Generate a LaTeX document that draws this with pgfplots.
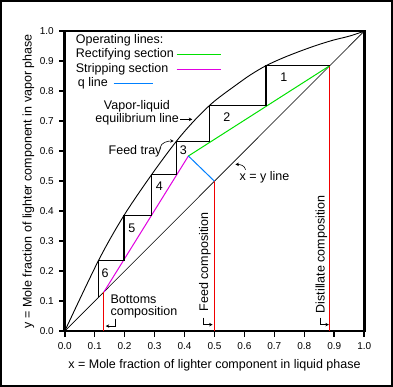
\documentclass[border=0pt]{standalone}
\usepackage{fontspec}
\setmainfont{Liberation Sans}
\usepackage{pgfplots}
\pgfplotsset{compat=1.18}
\usetikzlibrary{arrows.meta}
\definecolor{rectc}{RGB}{0,225,0}
\definecolor{stripc}{RGB}{225,0,225}
\definecolor{qc}{RGB}{0,128,255}
\definecolor{compc}{RGB}{240,0,0}
\begin{document}
\fontsize{12.5}{14}\selectfont
\begin{tikzpicture}[>={Stealth[length=3.5pt,width=3.5pt]}]
\useasboundingbox (0,0) rectangle (393pt,387pt);
\fill[white] (0,0) rectangle (393pt,387pt);
\draw[line width=2pt] (1pt,1pt) rectangle (392pt,386pt);
\begin{axis}[
  at={(64.7pt,55.8pt)}, anchor=south west,
  scale only axis, width=299.5pt, height=300pt,
  xmin=0, xmax=1, ymin=0, ymax=1,
  xtick={0,0.1,0.2,0.3,0.4,0.5,0.6,0.7,0.8,0.9,1},
  ytick={0,0.1,0.2,0.3,0.4,0.5,0.6,0.7,0.8,0.9,1},
  xtick pos=bottom, ytick pos=left,
  tick align=outside, major tick length=5.5pt,
  every tick/.style={black, line width=1.6pt},
  every axis/.append style={line width=2.6pt},
  scaled ticks=false,
  xticklabel style={font=\fontsize{10}{12}\selectfont, /pgf/number format/.cd, fixed, fixed zerofill, precision=1, assume math mode=true},
  yticklabel style={font=\fontsize{10}{12}\selectfont, /pgf/number format/.cd, fixed, fixed zerofill, precision=1, assume math mode=true},
  xlabel={x = Mole fraction of lighter component in liquid phase},
  ylabel={y = Mole fraction of lighter component in vapor phase},
  xlabel style={font=\fontsize{12.5}{14}\selectfont, yshift=-1pt},
  ylabel style={font=\fontsize{12.5}{14}\selectfont, yshift=-4pt},
  clip=false,
]
% x = y line
\addplot[black, line width=0.6pt] coordinates {(0,0) (1,1)};
% vapour-liquid equilibrium curve
\addplot[black, line width=0.9pt, smooth, tension=0.5] coordinates {
(0,0) (0.113,0.236) (0.198,0.386) (0.291,0.523) (0.372,0.632) (0.429,0.698)
(0.483,0.752) (0.518,0.781) (0.563,0.814) (0.618,0.853) (0.672,0.885)
(0.729,0.911) (0.785,0.933) (0.841,0.953) (0.896,0.970) (0.952,0.984) (1,1)};
% composition lines
\addplot[compc, line width=1pt] coordinates {(0.131,0) (0.131,0.131)};
\addplot[compc, line width=1pt] coordinates {(0.5,0) (0.5,0.5)};
\addplot[compc, line width=1pt] coordinates {(0.885,0) (0.885,0.885)};
% operating lines
\addplot[rectc, line width=1pt] coordinates {(0.413,0.584) (0.885,0.885)};
\addplot[stripc, line width=1pt] coordinates {(0.131,0.131) (0.413,0.584)};
\addplot[qc, line width=1pt] coordinates {(0.5,0.5) (0.413,0.584)};
% stages
\addplot[black, line width=1.2pt] coordinates {
(0.885,0.885) (0.672,0.885) (0.672,0.751) (0.483,0.751) (0.483,0.632)
(0.372,0.632) (0.372,0.523) (0.291,0.523) (0.291,0.386) (0.198,0.386)
(0.198,0.236) (0.113,0.236) (0.113,0.113)};
% legend samples
\addplot[rectc, line width=1.1pt] coordinates {(0.374,0.921) (0.521,0.921)};
\addplot[stripc, line width=1.1pt] coordinates {(0.374,0.872) (0.521,0.872)};
\addplot[qc, line width=1.1pt] coordinates {(0.163,0.827) (0.294,0.827)};
% stage numbers
\node at (axis cs:0.732,0.848) {1};
\node at (axis cs:0.541,0.712) {2};
\node at (axis cs:0.396,0.603) {3};
\node at (axis cs:0.316,0.483) {4};
\node at (axis cs:0.224,0.342) {5};
\node at (axis cs:0.135,0.192) {6};
% legend text
\node[anchor=west, inner sep=0] at (axis cs:0.033,0.970) {Operating lines:};
\node[anchor=west, inner sep=0] at (axis cs:0.033,0.922) {Rectifying section};
\node[anchor=west, inner sep=0] at (axis cs:0.033,0.873) {Stripping section};
\node[anchor=west, inner sep=0] at (axis cs:0.040,0.828) {q line};
% annotations
\node at (axis cs:0.241,0.750) {Vapor-liquid};
\node at (axis cs:0.242,0.706) {equilibrium line};
\draw[->, line width=0.6pt] (axis cs:0.385,0.706) -- (axis cs:0.426,0.706);
\node at (axis cs:0.235,0.600) {Feed tray};
\draw[->, line width=0.6pt] (axis cs:0.318,0.610) to[out=80,in=180] (axis cs:0.364,0.634);
\node at (axis cs:0.667,0.514) {x = y line};
\draw[->, line width=0.6pt] (axis cs:0.604,0.538) to[out=100,in=0] (axis cs:0.570,0.556);
\node[anchor=west, inner sep=0] at (axis cs:0.149,0.105) {Bottoms};
\node[anchor=west, inner sep=0] at (axis cs:0.149,0.064) {composition};
\draw[->, line width=0.6pt] (axis cs:0.168,0.042) |- (axis cs:0.137,0.017);
\node[anchor=west, inner sep=0, rotate=90] at (axis cs:0.468,0.062) {Feed composition};
\draw[->, line width=0.6pt] (axis cs:0.462,0.045) |- (axis cs:0.494,0.022);
\node[anchor=west, inner sep=0, rotate=90] at (axis cs:0.857,0.056) {Distillate composition};
\draw[->, line width=0.6pt] (axis cs:0.852,0.045) |- (axis cs:0.882,0.022);
\end{axis}
\end{tikzpicture}
\end{document}
